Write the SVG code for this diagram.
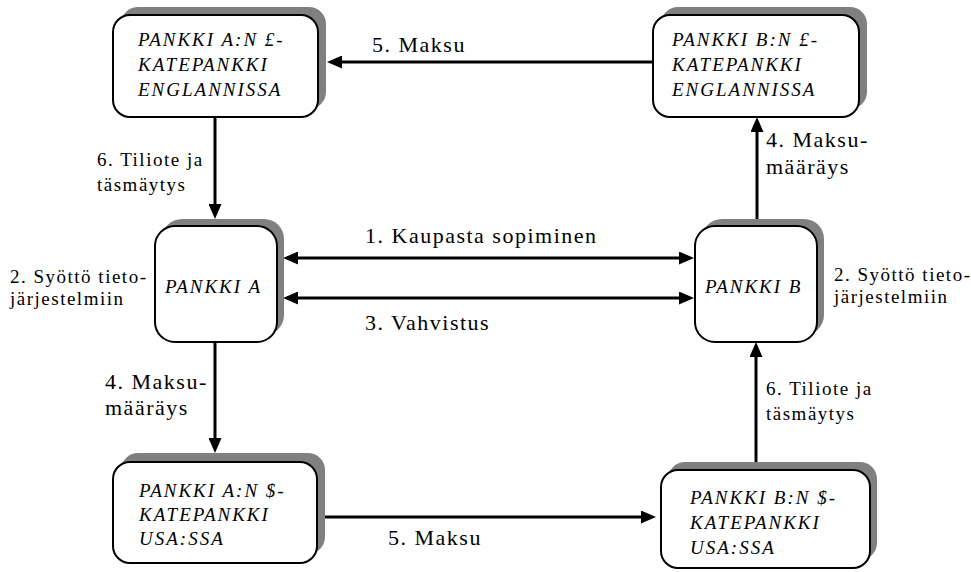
<svg xmlns="http://www.w3.org/2000/svg" width="971" height="572" viewBox="0 0 971 572">
<defs>
<style>
.bg{fill:#ffffff}
.shadow{fill:#808080}
.box{fill:#ffffff;stroke:#000000;stroke-width:2}
.bt{font-family:"Liberation Serif","Times New Roman",serif;font-style:italic;font-size:19px;letter-spacing:2px;fill:#000}
.lb{font-family:"Liberation Serif","Times New Roman",serif;font-size:22px;letter-spacing:1.5px;fill:#000}
.ls{font-family:"Liberation Serif","Times New Roman",serif;font-size:19px;letter-spacing:1.5px;fill:#000}
.conn{stroke:#000;stroke-width:3;fill:none}
</style>
<marker id="ah" viewBox="0 0 15 13" refX="10" refY="6.5" markerWidth="15" markerHeight="13" markerUnits="userSpaceOnUse" orient="auto-start-reverse">
<path d="M0,0 L15,6.5 L0,13 Z" fill="#000"/>
</marker>
</defs>
<rect class="bg" x="0" y="0" width="971" height="572"/>

<g id="connectors">
<line class="conn" x1="215" y1="117" x2="215" y2="214" marker-end="url(#ah)"/>
<line class="conn" x1="215" y1="342" x2="215" y2="448" marker-end="url(#ah)"/>
<line class="conn" x1="756" y1="462" x2="756" y2="347" marker-end="url(#ah)"/>
<line class="conn" x1="757" y1="219" x2="757" y2="122" marker-end="url(#ah)"/>
<line class="conn" x1="653" y1="62" x2="332" y2="62" marker-end="url(#ah)"/>
<line class="conn" x1="320" y1="517" x2="651" y2="517" marker-end="url(#ah)"/>
<line class="conn" x1="288" y1="258" x2="689" y2="258" marker-start="url(#ah)" marker-end="url(#ah)"/>
<line class="conn" x1="288" y1="298" x2="689" y2="298" marker-start="url(#ah)" marker-end="url(#ah)"/>
</g>

<g id="node-a-gbp">
<rect class="shadow" x="121" y="7" width="205" height="102" rx="17"/>
<rect class="box" x="113" y="15" width="205" height="102" rx="17"/>
<text class="bt" x="138" y="46">PANKKI A:N £-</text>
<text class="bt" x="138" y="71">KATEPANKKI</text>
<text class="bt" x="138" y="96">ENGLANNISSA</text>
</g>

<g id="node-b-gbp">
<rect class="shadow" x="661" y="7" width="206" height="102" rx="17"/>
<rect class="box" x="653" y="15" width="206" height="102" rx="17"/>
<text class="bt" x="672" y="46">PANKKI B:N £-</text>
<text class="bt" x="672" y="71">KATEPANKKI</text>
<text class="bt" x="672" y="96">ENGLANNISSA</text>
</g>

<g id="node-a">
<rect class="shadow" x="162" y="219" width="122" height="116" rx="20"/>
<rect class="box" x="155" y="226" width="122" height="116" rx="20"/>
<text class="bt" x="165" y="293">PANKKI A</text>
</g>

<g id="node-b">
<rect class="shadow" x="702" y="219" width="122" height="116" rx="20"/>
<rect class="box" x="695" y="226" width="122" height="116" rx="20"/>
<text class="bt" x="705" y="293">PANKKI B</text>
</g>

<g id="node-a-usd">
<rect class="shadow" x="121" y="453" width="204" height="101" rx="17"/>
<rect class="box" x="113" y="462" width="204" height="101" rx="17"/>
<text class="bt" x="139" y="497">PANKKI A:N $-</text>
<text class="bt" x="139" y="521">KATEPANKKI</text>
<text class="bt" x="139" y="545">USA:SSA</text>
</g>

<g id="node-b-usd">
<rect class="shadow" x="668" y="462" width="209" height="98" rx="17"/>
<rect class="box" x="661" y="470" width="209" height="98" rx="17"/>
<text class="bt" x="690" y="504">PANKKI B:N $-</text>
<text class="bt" x="690" y="529">KATEPANKKI</text>
<text class="bt" x="690" y="554">USA:SSA</text>
</g>

<g id="labels">
<text class="lb" x="372" y="52">5. Maksu</text>
<text class="ls" x="97" y="166">6. Tiliote ja</text>
<text class="ls" x="97" y="191">täsmäytys</text>
<text class="lb" x="766" y="147">4. Maksu-</text>
<text class="lb" x="766" y="174">määräys</text>
<text class="lb" x="365" y="243">1. Kaupasta sopiminen</text>
<text class="lb" x="365" y="330">3. Vahvistus</text>
<text class="ls" x="10" y="283">2. Syöttö tieto-</text>
<text class="ls" x="10" y="305">järjestelmiin</text>
<text class="ls" x="834" y="281">2. Syöttö tieto-</text>
<text class="ls" x="834" y="303">järjestelmiin</text>
<text class="lb" x="105" y="389">4. Maksu-</text>
<text class="lb" x="105" y="415">määräys</text>
<text class="ls" x="766" y="395">6. Tiliote ja</text>
<text class="ls" x="766" y="420">täsmäytys</text>
<text class="lb" x="388" y="545">5. Maksu</text>
</g>
</svg>
